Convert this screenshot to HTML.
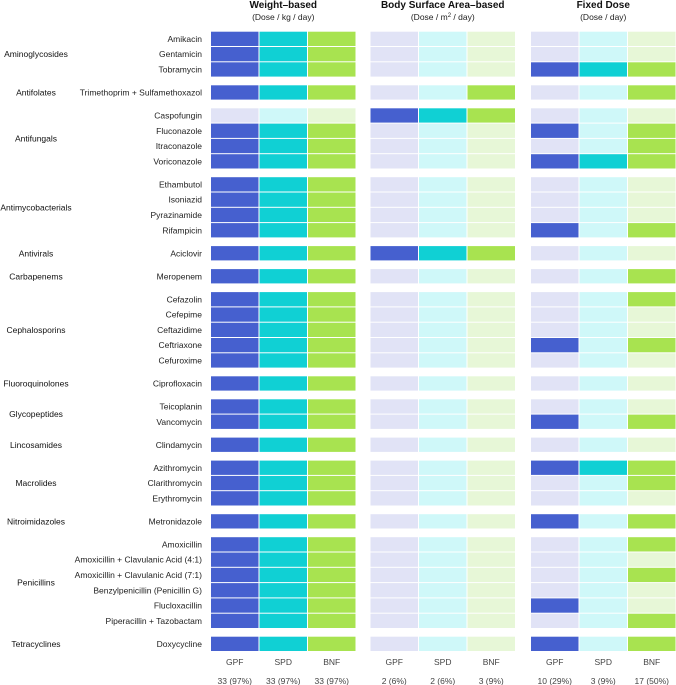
<!DOCTYPE html>
<html><head><meta charset="utf-8"><style>
body{margin:0;background:#fff;}
svg{display:block;font-family:"Liberation Sans",sans-serif;}
</style></head><body>
<svg id="chart" width="676" height="685" viewBox="0 0 676 685"></svg>
<script>
const groups = [
 ["Aminoglycosides",["Amikacin","Gentamicin","Tobramycin"]],
 ["Antifolates",["Trimethoprim + Sulfamethoxazol"]],
 ["Antifungals",["Caspofungin","Fluconazole","Itraconazole","Voriconazole"]],
 ["Antimycobacterials",["Ethambutol","Isoniazid","Pyrazinamide","Rifampicin"]],
 ["Antivirals",["Aciclovir"]],
 ["Carbapenems",["Meropenem"]],
 ["Cephalosporins",["Cefazolin","Cefepime","Ceftazidime","Ceftriaxone","Cefuroxime"]],
 ["Fluoroquinolones",["Ciprofloxacin"]],
 ["Glycopeptides",["Teicoplanin","Vancomycin"]],
 ["Lincosamides",["Clindamycin"]],
 ["Macrolides",["Azithromycin","Clarithromycin","Erythromycin"]],
 ["Nitroimidazoles",["Metronidazole"]],
 ["Penicillins",["Amoxicillin","Amoxicillin + Clavulanic Acid (4:1)","Amoxicillin + Clavulanic Acid (7:1)","Benzylpenicillin (Penicillin G)","Flucloxacillin","Piperacillin + Tazobactam"]],
 ["Tetracyclines",["Doxycycline"]]
];
const sources = ["GPF","SPD","BNF"];
const panelTitles = ["Weight\u2013based","Body Surface Area\u2013based","Fixed Dose"];
// per drug (34 rows): "GPF SPD BNF" flags
const weightBased = ["111","111","111","111","000","111","111","111","111","111","111","111","111","111","111","111","111","111","111","111","111","111","111","111","111","111","111","111","111","111","111","111","111","111"];
const bsaBased    = ["000","000","000","001","111","000","000","000","000","000","000","000","111","000","000","000","000","000","000","000","000","000","000","000","000","000","000","000","000","000","000","000","000","000"];
const fixedDose   = ["000","000","111","001","000","101","001","111","000","000","000","101","000","001","001","000","000","101","000","000","000","101","000","111","001","000","101","001","000","001","000","100","001","101"];
const panels = [weightBased, bsaBased, fixedDose];

const NS="http://www.w3.org/2000/svg";
const svg=document.getElementById('chart');
function mk(tag,attrs,parent){const e=document.createElementNS(NS,tag);for(const k in attrs)e.setAttribute(k,attrs[k]);(parent||svg).appendChild(e);return e;}
const full=["#4660cf","#10d0d4","#a8e350"];
const faded=["#e1e3f6","#cff8f9","#e7f7d7"];
const panelX=[210.5,370,530.5], panelW=145.5, colW=panelW/3;
const top0=31.7, step=15.3, gapExtra=7.7, cellH=14.3;
function rowY(i,g){return top0+i*step+g*gapExtra;}

// headers
const subs=["(Dose / kg / day)",null,"(Dose / day)"];
panelTitles.forEach((t,p)=>{
  const cx=panelX[p]+panelW/2;
  const tt=mk('text',{x:cx,y:8,'text-anchor':'middle','font-size':10,'font-weight':'bold',fill:'#111'});
  tt.textContent=t;
  
  
  const st=mk('text',{x:cx,y:20,'text-anchor':'middle','font-size':8.5,fill:'#222'});
  if(subs[p]) st.textContent=subs[p];
  else { st.innerHTML='(Dose / m<tspan dy="-3" font-size="6">2</tspan><tspan dy="3"> / day)</tspan>'; }
  
  
});

let idx=0;
groups.forEach((g,gi)=>{
  const start=idx;
  g[1].forEach(drug=>{
    const y=rowY(idx,gi);
    const lt=mk('text',{x:202,y:y+cellH/2+3,'text-anchor':'end','font-size':8.5,fill:'#222'});
    lt.textContent=drug;
    
    
    panels.forEach((arr,p)=>{
      for(let c=0;c<3;c++){
        const on=arr[idx][c]==='1';
        const r=mk('rect',{x:panelX[p]+c*colW+0.5,y:y,width:colW-1,height:cellH,fill:on?full[c]:faded[c]});
        
        
      }
    });
    idx++;
  });
  const y0=rowY(start,gi), y1=rowY(idx-1,gi)+cellH;
  const gt=mk('text',{x:36,y:(y0+y1)/2+3,'text-anchor':'middle','font-size':8.5,fill:'#111'});
  gt.textContent=g[0];
  
  
});

panels.forEach((arr,p)=>{
  for(let c=0;c<3;c++){
    const cx=panelX[p]+c*colW+colW/2;
    const n=arr.filter(s=>s[c]==='1').length;
    const a=mk('text',{x:cx,y:665,'text-anchor':'middle','font-size':8.5,fill:'#444'});
    a.textContent=sources[c];
    
    
    const b=mk('text',{x:cx,y:684,'text-anchor':'middle','font-size':8.5,fill:'#444'});
    b.textContent=n+" ("+Math.round(n/34*100)+"%)";
    
    
  }
});
</script>
</body></html>
